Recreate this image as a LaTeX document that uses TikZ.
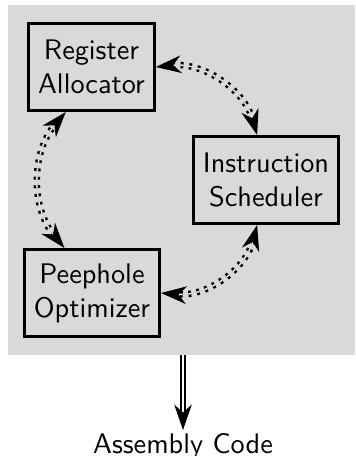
\documentclass[tikz,border=0pt]{standalone}
\usepackage{amsmath}
\usepackage{color}
\usetikzlibrary{arrows.meta,calc}

\begin{document}
\begin{tikzpicture}[x=0.3534pt,y=-0.3534pt,
  >={Stealth[length=9pt,width=6.2pt,inset=2.8pt]},
  phase node/.style={draw,line width=1pt,align=center,font=\sffamily,
    minimum height=30.8pt},
  swap/.style={<->,double,dash pattern=on 1pt off 2pt,line width=0.9pt,
    double distance=0.5pt}]

  \useasboundingbox (0,0) rectangle (355,456);
  \fill[black!15] (8,5) rectangle (355,355);

  \node[phase node] (RA) at (91.5,67) {Register\\Allocator};
  \node[phase node] (IS) at (266,180) {Instruction\\Scheduler};
  \node[phase node] (PO) at (92,293) {Peephole\\Optimizer};

  \coordinate (out) at (183,355);
  \node[font=\sffamily,inner sep=1pt,anchor=north] (AC) at (183,430)
    {Assembly Code};

  \draw[swap] (RA.east) to[bend left=40]
    ($(IS.north west)!0.44!(IS.north east)$);
  \draw[swap] ($(IS.south west)!0.44!(IS.south east)$) to[bend left=40]
    (PO.east);
  \draw[swap] ($(PO.north west)!0.3!(PO.north east)$) to[bend left=40]
    ($(RA.south west)!0.3!(RA.south east)$);

  \draw[->,double,line width=0.7pt,double distance=1pt] (out) -- (AC);
\end{tikzpicture}
\end{document}
